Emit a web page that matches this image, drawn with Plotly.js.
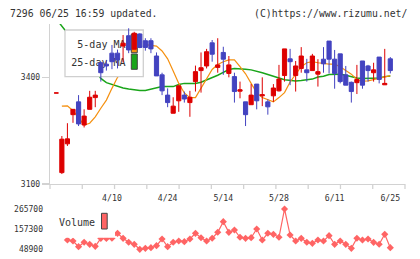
<!DOCTYPE html>
<html>
<head>
<meta charset="utf-8">
<script src="https://cdn.plot.ly/plotly-3.0.1.min.js"></script>
<style>
  html, body { margin: 0; padding: 0; background: #fff; }
  #chart { width: 420px; height: 259px; }
</style>
</head>
<body>
<div id="chart"></div>
<script>
// Trading days shown on the chart
const dates = [
  '3/27','3/30','3/31','4/1','4/2','4/3','4/6','4/7','4/8','4/9',
  '4/10','4/13','4/14','4/15','4/16','4/17','4/20','4/21','4/22','4/23',
  '4/24','4/27','4/28','4/30','5/1','5/7','5/8','5/11','5/12','5/13',
  '5/14','5/15','5/18','5/19','5/20','5/21','5/22','5/25','5/26','5/27',
  '5/28','5/29','6/1','6/2','6/3','6/4','6/5','6/8','6/9','6/10',
  '6/11','6/12','6/15','6/16','6/17','6/18','6/19','6/22','6/23','6/24',
  '6/25'
];

// Daily prices (yen)
const open = [
  3356,3132,3213,3295,3331,3266,3310,3343,3441,3437,
  3468,3468,3488,3517,3479,3522,3503,3503,3460,3407,
  3350,3299,3334,3350,3329,3388,3419,3432,3497,3428,
  3470,3411,3402,3361,3331,3323,3381,3348,3331,3348,
  3362,3405,3452,3405,3425,3421,3419,3409,3451,3502,
  3451,3466,3407,3386,3385,3446,3432,3413,3457,3379,
  3452
];
const high = [
  3356,3235,3271,3310,3350,3310,3362,3362,3444,3449,
  3491,3478,3519,3538,3528,3524,3510,3510,3470,3413,
  3369,3344,3378,3360,3362,3433,3470,3480,3505,3510,
  3486,3460,3413,3388,3331,3381,3381,3400,3338,3381,
  3435,3480,3480,3446,3485,3452,3466,3451,3485,3502,
  3477,3466,3432,3388,3435,3446,3435,3441,3457,3480,
  3457
];
const low = [
  3356,3128,3207,3272,3263,3259,3310,3316,3388,3419,
  3423,3425,3442,3468,3479,3482,3475,3468,3404,3350,
  3316,3299,3303,3329,3289,3360,3357,3425,3444,3413,
  3407,3400,3329,3341,3263,3323,3310,3319,3295,3331,
  3360,3388,3378,3360,3413,3388,3419,3374,3413,3411,
  3368,3383,3378,3329,3353,3368,3388,3388,3383,3379,
  3411
];
const close = [
  3356,3226,3227,3310,3269,3291,3344,3350,3413,3432,
  3444,3449,3496,3477,3524,3484,3484,3480,3404,3362,
  3329,3319,3376,3339,3344,3416,3427,3472,3465,3435,
  3451,3435,3360,3365,3295,3350,3334,3351,3317,3370,
  3395,3480,3444,3432,3460,3413,3460,3416,3438,3451,
  3411,3388,3378,3360,3394,3378,3419,3421,3394,3383,
  3419
];

// Moving averages (yen)
const ma5 = [
  null,3319,3320,3306,3286,3266,3271,3289,3313,3336,
  3369,3400,3418,3447,3460,3478,3492,3491,3488,3474,
  3452,3418,3383,3356,3343,3343,3370,3394,3422,3436,
  3444,3449,3449,3430,3410,3383,3357,3343,3336,3331,
  3343,3357,3387,3409,3430,3441,3444,3441,3438,3437,
  3437,3430,3419,3409,3394,3389,3390,3394,3397,3400,
  3405
];
const ma25 = [
  3564,3544,3525,3506,3485,3464,3444,3419,3397,3385,
  3380,3374,3370,3367,3364,3363,3363,3367,3371,3374,
  3374,3374,3380,3383,3383,3383,3386,3392,3399,3406,
  3414,3422,3425,3425,3423,3421,3418,3413,3408,3404,
  3398,3393,3391,3390,3391,3392,3395,3401,3403,3408,
  3409,3409,3406,3401,3398,3397,3397,3397,3398,3402,
  3404
];

// Daily volume (shares)
const volume = [
  null,null,99000,93600,62900,86600,75800,65000,108000,107000,
  108500,135000,108100,86600,75800,48900,54300,57500,68300,104300,
  62900,86600,93600,89800,104300,135000,110800,93600,108400,140400,
  197400,140000,152700,113500,107800,111300,158100,98900,135200,129600,
  113700,265700,125800,93400,108100,86600,81200,98700,93600,122100,
  75800,93500,75600,54300,108200,98900,104300,86500,75900,129600,
  57500
];

const volTicks = [48900, 157300, 265700];
const dateTicks = ['4/10','4/24','5/14','5/28','6/11','6/25'];

const RED = '#dd0000', BLUE = '#4343c0', ORANGE = '#f5900f', GREEN = '#1aa51a';
const VOL = '#ff6464', GRID = '#d2d2d2', INK = '#333333';
const MONO = 'DejaVu Sans Mono';

// Page frame in pixels
const W = 420, H = 259;
const px = v => v / W;
const py = v => 1 - v / H;
const PLOT_L = 50, PLOT_R = 405, MAIN_TOP = 24, MAIN_BOT = 184;
const xDom = [px(PLOT_L), px(PLOT_R)];
const xRange = [-1.13, 62.64];

const traces = [
  { type: 'scatter', mode: 'lines', x: dates, y: ma25, xaxis: 'x', yaxis: 'y',
    line: { color: GREEN, width: 1.5 }, hoverinfo: 'skip' },
  { type: 'scatter', mode: 'lines', x: dates, y: ma5, xaxis: 'x', yaxis: 'y',
    line: { color: ORANGE, width: 1.2 }, hoverinfo: 'skip' },

  { type: 'scatter', mode: 'lines+markers', x: dates, y: volume, xaxis: 'x2', yaxis: 'y2',
    line: { color: VOL, width: 1.2 }, marker: { symbol: 'diamond', size: 5.5, color: VOL },
    cliponaxis: false, hoverinfo: 'skip' },

  // legend panel of the price chart (pixel frame of the plot area)
  { type: 'scatter', mode: 'lines', xaxis: 'x3', yaxis: 'y3',
    x: [65, 143.3, 143.3, 65, 65], y: [30, 30, 76.7, 76.7, 30],
    fill: 'toself', fillcolor: '#ffffff', line: { color: '#cfcfcf', width: 1.3 }, hoverinfo: 'skip' },
  { type: 'scatter', mode: 'lines', xaxis: 'x3', yaxis: 'y3',
    x: [131.3, 137.3, 137.3, 131.3, 131.3], y: [34, 34, 52.7, 52.7, 34],
    fill: 'toself', fillcolor: ORANGE, line: { color: '#444444', width: 1 }, hoverinfo: 'skip' },
  { type: 'scatter', mode: 'lines', xaxis: 'x3', yaxis: 'y3',
    x: [131.3, 137.3, 137.3, 131.3, 131.3], y: [54, 54, 69.3, 69.3, 54],
    fill: 'toself', fillcolor: GREEN, line: { color: '#444444', width: 1 }, hoverinfo: 'skip' },
  { type: 'scatter', mode: 'text', xaxis: 'x3', yaxis: 'y3',
    x: [125.5, 125.5], y: [45.5, 63.5], text: ['5-day MA', '25-day MA'],
    textposition: 'middle left', textfont: { family: MONO, size: 10, color: INK }, hoverinfo: 'skip' },

  { type: 'candlestick', x: dates, open: open, high: high, low: low, close: close,
    xaxis: 'x4', yaxis: 'y4', whiskerwidth: 0,
    increasing: { line: { color: RED, width: 1 }, fillcolor: RED },
    decreasing: { line: { color: BLUE, width: 1 }, fillcolor: BLUE },
    hoverinfo: 'skip' }
];

// small tick marks along the price axis
const shapes = [];
for (let k = 0; k <= 11; k++) {
  const x = px(PLOT_L + k * (PLOT_R - PLOT_L) / 11);
  shapes.push({ type: 'line', xref: 'paper', yref: 'paper', x0: x, x1: x,
    y0: py(MAIN_BOT), y1: py(MAIN_BOT + 5), line: { color: GRID, width: 1.3 } });
}
// volume legend panel and swatch
shapes.push({ type: 'rect', xref: 'paper', yref: 'paper', layer: 'above',
  x0: px(55), x1: px(115), y0: py(237.7), y1: py(203),
  fillcolor: '#ffffff', line: { width: 0 } });
shapes.push({ type: 'rect', xref: 'paper', yref: 'paper', layer: 'above',
  x0: px(101.5), x1: px(107.2), y0: py(229), y1: py(213.3),
  fillcolor: VOL, line: { color: '#444444', width: 1 } });

const layout = {
  width: W, height: H, autosize: false,
  margin: { l: 0, r: 0, t: 0, b: 0, pad: 0 },
  paper_bgcolor: '#ffffff', plot_bgcolor: 'rgba(0,0,0,0)',
  showlegend: false, hovermode: false,
  boxgap: 0.25, boxgroupgap: 0,
  font: { family: MONO, color: INK },
  xaxis: { type: 'category', domain: xDom, range: xRange, anchor: 'y',
    showline: true, linecolor: GRID, linewidth: 1.3, showgrid: false, zeroline: false,
    ticks: '', tickmode: 'array', tickvals: dateTicks, ticktext: dateTicks,
    tickfont: { family: MONO, size: 8.2, color: INK }, ticklabelstandoff: 6,
    rangeslider: { visible: false }, fixedrange: true },
  yaxis: { domain: [py(MAIN_BOT), py(MAIN_TOP)], range: [3100, 3550], anchor: 'x',
    showline: true, linecolor: GRID, linewidth: 1.3, showgrid: false, zeroline: false,
    ticks: 'outside', ticklen: 7, tickwidth: 1.3, tickcolor: GRID,
    tickmode: 'array', tickvals: [3100, 3400],
    tickfont: { family: MONO, size: 8, color: INK }, fixedrange: true },

  xaxis2: { type: 'category', domain: xDom, range: xRange, anchor: 'y2', visible: false, fixedrange: true },
  yaxis2: { domain: [py(254.3), py(204)], range: [22000, 292600], anchor: 'x2',
    showline: false, showgrid: false, zeroline: false, ticks: '',
    tickmode: 'array', tickvals: volTicks, tickformat: 'd', ticklabelstandoff: 6,
    tickfont: { family: MONO, size: 8, color: INK }, fixedrange: true },

  xaxis3: { overlaying: 'x', range: [PLOT_L, PLOT_R], visible: false, fixedrange: true },
  yaxis3: { overlaying: 'y', range: [MAIN_BOT, MAIN_TOP], visible: false, fixedrange: true },

  xaxis4: { overlaying: 'x', type: 'category', range: xRange, visible: false,
    rangeslider: { visible: false }, fixedrange: true },
  yaxis4: { overlaying: 'y', range: [3100, 3550], visible: false, fixedrange: true },

  shapes: shapes,
  annotations: [
    { xref: 'paper', yref: 'paper', x: px(8), y: py(13.3), xanchor: 'left', yanchor: 'middle',
      text: '7296 06/25 16:59 updated.', showarrow: false,
      font: { family: MONO, size: 9.8, color: INK } },
    { xref: 'paper', yref: 'paper', x: px(408.5), y: py(13.3), xanchor: 'right', yanchor: 'middle',
      text: '(C)https://www.rizumu.net/', showarrow: false,
      font: { family: MONO, size: 9.8, color: INK } },
    { xref: 'paper', yref: 'paper', x: px(76.5), y: py(222.3), xanchor: 'center', yanchor: 'middle',
      text: 'Volume', showarrow: false,
      font: { family: MONO, size: 10, color: INK } }
  ]
};

Plotly.newPlot('chart', traces, layout, { staticPlot: true, displayModeBar: false });
</script>
</body>
</html>
